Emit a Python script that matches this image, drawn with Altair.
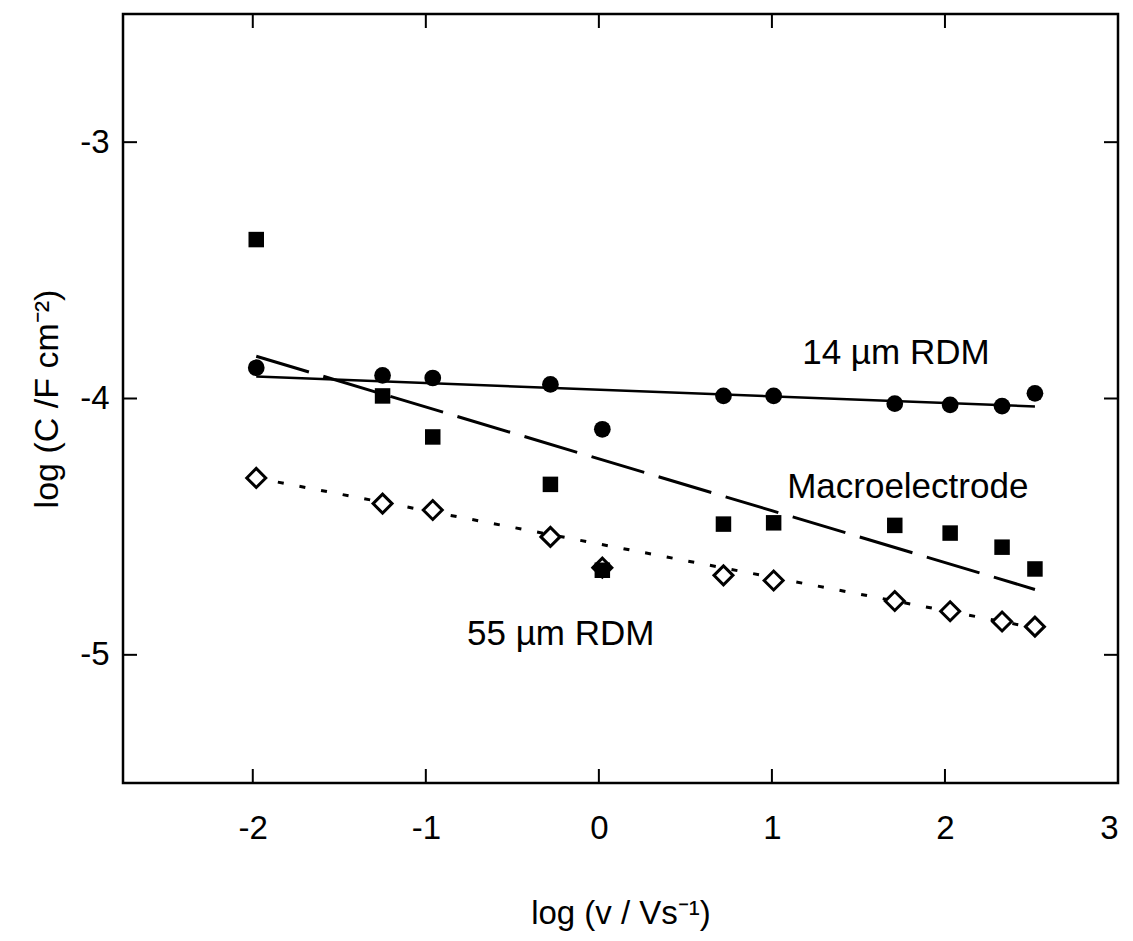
import altair as alt
import pandas as pd

# log scan rate (x) shared by all series
x_vals = [-1.98, -1.25, -0.96, -0.28, 0.02, 0.72, 1.01, 1.71, 2.03, 2.33, 2.52]
rdm14 = [-3.88, -3.91, -3.92, -3.945, -4.12, -3.99, -3.99, -4.02, -4.025, -4.03, -3.98]
macro = [-3.38, -3.99, -4.15, -4.335, -4.67, -4.49, -4.485, -4.495, -4.525, -4.58, -4.665]
rdm55 = [-4.31, -4.41, -4.435, -4.54, -4.66, -4.69, -4.71, -4.79, -4.83, -4.87, -4.89]

# straight fit lines (end points)
fit_x = [-1.98, 2.52]
fit_rdm14 = [-3.914, -4.031]
fit_macro = [-3.835, -4.745]
fit_rdm55 = [-4.31, -4.895]

# annotations
label_text = ["14 µm RDM", "Macroelectrode", "55 µm RDM"]
label_x = [1.175, 1.088, -0.762]
label_y = [-3.866, -4.39, -4.96]

x_ticks = [-2, -1, 0, 1, 2, 3]
y_ticks = [-3, -4, -5]

FONT = "Liberation Sans"
W, H = 995, 769
HYPHEN = "datum.value < 0 ? '-' + abs(datum.value) : '' + datum.value"

xs = alt.Scale(domain=[-2.75, 3], nice=False, zero=False)
ys = alt.Scale(domain=[-5.5, -2.5], nice=False, zero=False)

df14 = pd.DataFrame({"x": x_vals, "y": rdm14})
dfm = pd.DataFrame({"x": x_vals, "y": macro})
df55 = pd.DataFrame({"x": x_vals, "y": rdm55})
f14 = pd.DataFrame({"x": fit_x, "y": fit_rdm14})
fm = pd.DataFrame({"x": fit_x, "y": fit_macro})
f55 = pd.DataFrame({"x": fit_x, "y": fit_rdm55})
lab = pd.DataFrame({"t": label_text, "x": label_x, "y": label_y})
xt = pd.DataFrame({"x": [v for v in x_ticks if v < 3]})
yt = pd.DataFrame({"y": y_ticks})

xaxis = alt.Axis(values=x_ticks, tickSize=0, labelFontSize=33, labelFont=FONT,
                 labelColor="black", labelPadding=29, domain=False, grid=False,
                 labelExpr=HYPHEN,
                 title="log (v / Vs⁻¹)", titleFont=FONT, titleFontSize=33,
                 titleFontWeight="normal", titleColor="black", titlePadding=52)
yaxis = alt.Axis(values=y_ticks, tickSize=0, labelFontSize=33, labelFont=FONT,
                 labelColor="black", labelPadding=14, domain=False, grid=False,
                 labelExpr=HYPHEN,
                 title="log (C /F cm⁻²)", titleFont=FONT, titleFontSize=34,
                 titleFontWeight="normal", titleColor="black", titlePadding=15)

X = alt.X("x:Q", scale=xs, axis=xaxis)
Y = alt.Y("y:Q", scale=ys, axis=yaxis)

line14 = alt.Chart(f14).mark_line(color="black", strokeWidth=2.5).encode(x=X, y=Y)
linem = alt.Chart(fm).mark_line(color="black", strokeWidth=3, strokeDash=[55, 15]).encode(x=X, y=Y)
line55 = alt.Chart(f55).mark_line(color="black", strokeWidth=3, strokeDash=[6, 16]).encode(x=X, y=Y)

pts55 = alt.Chart(df55).mark_point(shape="diamond", size=360, filled=True, fill="white",
                                    stroke="black", strokeWidth=3, opacity=1).encode(x=X, y=Y)
pts14 = alt.Chart(df14).mark_point(shape="circle", size=280, filled=True, color="black",
                                    opacity=1).encode(x=X, y=Y)
ptsm = alt.Chart(dfm).mark_point(shape="square", size=240, filled=True, color="black",
                                  opacity=1).encode(x=X, y=Y)

labels = alt.Chart(lab).mark_text(align="left", baseline="alphabetic", font=FONT,
                                  fontSize=35, color="black").encode(x=X, y=Y, text="t:N")

tick_style = dict(color="black", strokeWidth=2)
bt = alt.Chart(xt).mark_rule(**tick_style).encode(x=X, y=alt.value(H), y2=alt.value(H - 14))
tt = alt.Chart(xt).mark_rule(**tick_style).encode(x=X, y=alt.value(0), y2=alt.value(14))
lt = alt.Chart(yt).mark_rule(**tick_style).encode(y=Y, x=alt.value(0), x2=alt.value(14))
rt = alt.Chart(yt).mark_rule(**tick_style).encode(y=Y, x=alt.value(W), x2=alt.value(W - 14))

chart = alt.layer(line14, linem, line55, bt, tt, lt, rt, pts55, pts14, ptsm, labels).properties(
    width=W, height=H,
    padding={"left": 123, "top": 14, "right": 15, "bottom": 158},
    autosize=alt.AutoSizeParams(type="none"),
    background="white",
).configure_view(stroke="black", strokeWidth=2.5)

chart.save("out.html", embed_options={"renderer": "svg", "actions": False})
